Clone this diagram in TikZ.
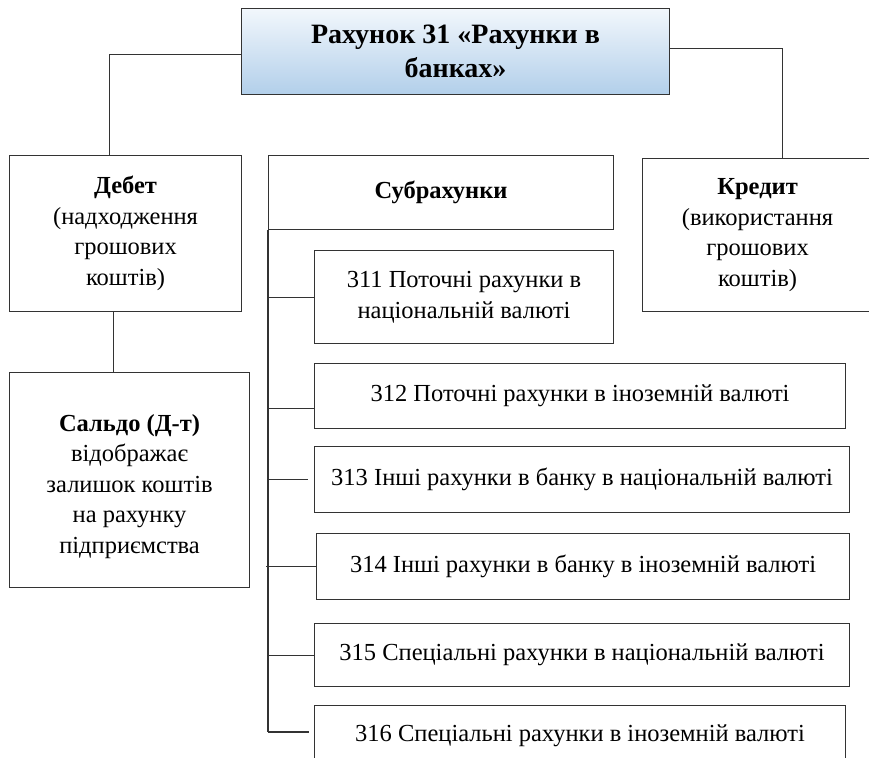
\documentclass[tikz,border=0pt]{standalone}
\usepackage{fontspec}
\setmainfont{Liberation Serif}
\begin{document}
\begin{tikzpicture}[x=1pt,y=-1pt,
  box/.style={draw=black!80, line width=1.1pt, fill=white, align=center,
    inner sep=0pt, anchor=north west, font=\fontsize{24.5}{30.5}\selectfont},
  link/.style={draw=black!80, line width=1.1pt},
  titlebox/.style={box, top color={rgb,255:red,242;green,247;blue,252},
    bottom color={rgb,255:red,178;green,207;blue,234},
    font=\bfseries\fontsize{28}{34}\selectfont}]
\useasboundingbox (0,0) rectangle (869,757);

% account header
\node[titlebox, minimum width=428pt, minimum height=86pt] (acc) at (241,8)
  {Рахунок 31 «Рахунки в\\банках»};

% debit / credit / balance
\node[box, minimum width=232pt, minimum height=156pt] (deb) at (9,155)
  {\textbf{Дебет}\\(надходження\\грошових\\коштів)};
\node[box, minimum width=240pt, minimum height=215pt] (sal) at (9,372)
  {\rule{0pt}{30pt}\textbf{Сальдо (Д-т)}\\відображає\\залишок коштів\\на рахунку\\підприємства};
\node[box, minimum width=230pt, minimum height=153pt] (cre) at (642,158)
  {\textbf{Кредит}\\(використання\\грошових\\коштів)};

% sub-accounts
\node[box, minimum width=345pt, minimum height=74pt] (sub) at (268,155)
  {\textbf{Субрахунки}};
\node[box, minimum width=299pt, minimum height=93pt] (s311) at (314,250)
  {311 Поточні рахунки в\\національній валюті};
\node[box, minimum width=531pt, minimum height=65pt] (s312) at (314,363)
  {312 Поточні рахунки в іноземній валюті};
\node[box, minimum width=535pt, minimum height=66pt] (s313) at (314,446)
  {313 Інші рахунки в банку в національній валюті};
\node[box, minimum width=533pt, minimum height=66pt] (s314) at (316,533)
  {314 Інші рахунки в банку в іноземній валюті};
\node[box, minimum width=535pt, minimum height=63pt] (s315) at (314,623)
  {315 Спеціальні рахунки в національній валюті};
\node[box, minimum width=531pt, minimum height=60pt, anchor=north west] (s316) at (314,705)
  {316 Спеціальні рахунки в іноземній валюті};

% header connectors
\draw[link] ([yshift=-3pt]acc.west) -| ([xshift=-16pt]deb.north);
\draw[link] ([yshift=3pt]acc.east) -| ([xshift=25pt]cre.north);
\draw[link] ([xshift=-12pt]deb.south) -- ([xshift=-12pt]deb.south |- sal.north);

% sub-account trunk and branches
\coordinate (trunk) at (268,732);
\draw[link] (sub.south west) -- (trunk);
\draw[link] (sub.south west |- s311.west) -- (s311.west);
\draw[link] ([yshift=-12pt]sub.south west |- s312.west) -- ([yshift=-12pt]s312.west);
\draw[link] (sub.south west |- s313.west) -- ([xshift=-6pt]s313.west);
\draw[link] ([xshift=-2pt]sub.south west |- s314.west) -- (s314.west);
\draw[link] (sub.south west |- s315.west) -- (s315.west);
\draw[link] (trunk) -- ([xshift=-5pt]trunk -| s316.west);
\end{tikzpicture}
\end{document}
